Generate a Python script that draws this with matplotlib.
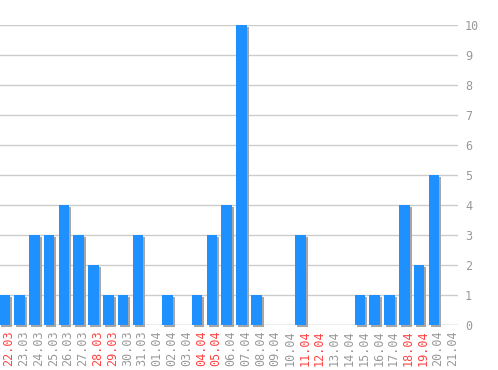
import matplotlib
matplotlib.use("Agg")
import matplotlib.pyplot as plt
from matplotlib.transforms import ScaledTranslation

dates = ["22.03", "23.03", "24.03", "25.03", "26.03", "27.03", "28.03", "29.03",
         "30.03", "31.03", "01.04", "02.04", "03.04", "04.04", "05.04", "06.04",
         "07.04", "08.04", "09.04", "10.04", "11.04", "12.04", "13.04", "14.04",
         "15.04", "16.04", "17.04", "18.04", "19.04", "20.04", "21.04"]
counts = [1, 1, 3, 3, 4, 3, 2, 1, 1, 3, 0, 1, 0, 1, 3, 4,
          10, 1, 0, 0, 3, 0, 0, 0, 1, 1, 1, 4, 2, 5, 0]
weekend = ["22.03", "28.03", "29.03", "04.04", "05.04", "11.04", "12.04",
           "18.04", "19.04"]
y_ticks = list(range(0, 11))


def main():
    fig = plt.figure(figsize=(4.98, 3.70), dpi=100)
    ax = fig.add_axes([0.0, 1 - 325 / 370, 458 / 498, 300 / 370])
    x = list(range(len(dates)))

    # grid lines
    for t in y_ticks:
        ax.axhline(t, color="#a8a8a8" if t == 0 else "#cccccc", lw=1, zorder=0)

    # shadow, shifted 2px right and down
    shift = ax.transData + ScaledTranslation(2 / 100, -2 / 100, fig.dpi_scale_trans)
    ax.bar(x, counts, width=0.72, color="#a6a6a6", transform=shift,
           zorder=1, clip_on=False)
    ax.bar(x, counts, width=0.72, color="#1e90ff", zorder=2, clip_on=False)

    ax.set_xlim(-0.32, 30.63)
    ax.set_ylim(0, 10)
    for s in ax.spines.values():
        s.set_visible(False)

    ax.yaxis.tick_right()
    ax.set_yticks(y_ticks)
    ax.set_yticklabels([str(t) for t in y_ticks], family="DejaVu Sans Mono",
                       fontsize=8.5, color="#999999")
    ax.tick_params(axis="y", length=0, pad=5)

    ax.set_xticks([i + 0.28 for i in x])
    ax.set_xticklabels(dates, rotation=90, family="DejaVu Sans Mono",
                       fontsize=8.5, color="#999999")
    ax.tick_params(axis="x", length=0, pad=4)
    for lab in ax.get_xticklabels():
        if lab.get_text() in weekend:
            lab.set_color("#ff4444")

    fig.savefig("out.png", dpi=100)
    plt.close(fig)


if __name__ == '__main__':
    main()
